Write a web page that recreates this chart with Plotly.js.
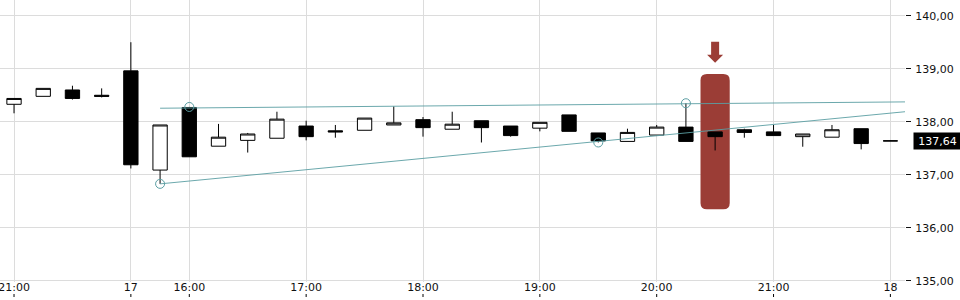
<!DOCTYPE html>
<html><head><meta charset="utf-8">
<script src="https://cdn.plot.ly/plotly-3.0.1.min.js"></script>
<style>html,body{margin:0;padding:0;background:#fff}#chart{width:960px;height:300px}</style>
</head><body><div id="chart"></div>
<script>
// 15-minute bars (ordinal axis: trading gaps removed)
const times = ["16 21:00","16 21:15","16 21:30","16 21:45",
  "17 15:30","17 15:45","17 16:00","17 16:15","17 16:30","17 16:45",
  "17 17:00","17 17:15","17 17:30","17 17:45","17 18:00","17 18:15",
  "17 18:30","17 18:45","17 19:00","17 19:15","17 19:30","17 19:45",
  "17 20:00","17 20:15","17 20:30","17 20:45","17 21:00","17 21:15",
  "17 21:30","17 21:45","18 15:30"];
const openV  = [138.33,138.48,138.60,138.50,138.96,137.09,138.27,137.54,137.65,137.69,
  137.92,137.83,137.84,137.94,138.04,137.86,138.02,137.92,137.88,138.13,
  137.79,137.63,137.75,137.90,137.81,137.85,137.81,137.72,137.71,137.87,137.64];
const highV  = [138.44,138.63,138.68,138.63,139.50,137.94,138.28,137.96,137.79,138.19,
  138.02,137.94,138.07,138.29,138.09,138.19,138.02,137.92,137.99,138.13,
  137.79,137.87,137.94,138.35,137.81,137.87,137.94,137.77,137.94,137.87,137.64];
const lowV   = [138.16,138.48,138.42,138.46,137.12,136.83,137.34,137.54,137.42,137.69,
  137.65,137.70,137.84,137.94,137.72,137.86,137.61,137.72,137.82,137.82,
  137.61,137.63,137.75,137.63,137.46,137.70,137.74,137.53,137.71,137.48,137.64];
const closeV = [138.44,138.63,138.44,138.48,137.19,137.94,137.34,137.71,137.77,138.05,
  137.72,137.81,138.07,137.98,137.89,137.955,137.89,137.74,137.99,137.82,
  137.64,137.80,137.90,137.63,137.72,137.80,137.74,137.77,137.85,137.59,137.64];

const tickIdx   = [0,4,6,10,14,18,22,26,30];
const tickText  = ["21:00","17","16:00","17:00","18:00","19:00","20:00","21:00","18"];

// trend lines (bar index, price)
const upperTrendX = [5, 30.5];
const upperTrendY = [138.256, 138.375];
const lowerTrendX = [5, 30.5];
const lowerTrendY = [136.83, 138.19];
const pivotX = [5, 6, 20, 23];
const pivotY = [136.83, 138.28, 137.61, 138.35];

const lastPrice = 137.64;
const lastPriceText = "137,64";
const signalIdx = 24;
const signalBand = [136.35, 138.90];
const signalArrowTip = 139.115;

const xIdx = times.map((t, i) => i);
const xRange = [-0.48, 30.5];
const teal = '#5b9ea3';
const red = '#9b3d36';
const font = 'DejaVu Sans, sans-serif';

const traces = [
  {type:'candlestick', x:xIdx, open:openV, high:highV, low:lowV, close:closeV,
   increasing:{line:{color:'#000', width:1}, fillcolor:'#ffffff'},
   decreasing:{line:{color:'#000', width:1}, fillcolor:'#000000'},
   whiskerwidth:0, hoverinfo:'skip', showlegend:false},
  {type:'scatter', mode:'lines', x:upperTrendX, y:upperTrendY,
   line:{color:teal, width:1}, hoverinfo:'skip', showlegend:false, opacity:0.9},
  {type:'scatter', mode:'lines', x:lowerTrendX, y:lowerTrendY,
   line:{color:teal, width:1}, hoverinfo:'skip', showlegend:false, opacity:0.9},
  {type:'scatter', mode:'markers', x:pivotX, y:pivotY,
   marker:{symbol:'circle-open', size:9, color:teal, line:{width:1, color:teal}},
   hoverinfo:'skip', showlegend:false}
];

// rounded highlight band
const x0 = signalIdx - 0.5, x1 = signalIdx + 0.5, y0 = signalBand[0], y1 = signalBand[1];
const rx = 0.22, ry = 0.12;
const bandPath = `M${x0+rx},${y1} L${x1-rx},${y1} Q${x1},${y1} ${x1},${y1-ry} L${x1},${y0+ry} Q${x1},${y0} ${x1-rx},${y0} L${x0+rx},${y0} Q${x0},${y0} ${x0},${y0+ry} L${x0},${y1-ry} Q${x0},${y1} ${x0+rx},${y1} Z`;

const shapes = [
  {type:'path', layer:'between', xref:'x', yref:'y', path:bandPath, fillcolor:red, line:{width:0}},
  {type:'path', layer:'above', xref:'x', yref:'y', xsizemode:'pixel', ysizemode:'pixel',
   xanchor:signalIdx, yanchor:signalArrowTip,
   path:'M0,0 L-8,8 L-4,8 L-4,21 L4,21 L4,8 L8,8 Z', fillcolor:red, line:{width:0}},
  {type:'path', layer:'above', xref:'x', yref:'y', xsizemode:'pixel', ysizemode:'pixel',
   xanchor:xRange[1], yanchor:lastPrice,
   path:'M0,0 L9,8 L9,-8 Z', fillcolor:'#000', line:{width:0}}
];
tickIdx.forEach(t => shapes.push({type:'line', xref:'x', yref:'paper', ysizemode:'pixel', yanchor:0,
  x0:t, x1:t, y0:-12, y1:-15, line:{color:'#000', width:1}}));

const layout = {
  width:960, height:300,
  margin:{l:0, r:55, t:0, b:18},
  paper_bgcolor:'#fff', plot_bgcolor:'#fff',
  separators:',.',
  font:{family:font, size:11, color:'#111'},
  showlegend:false,
  xaxis:{range:xRange, tickvals:tickIdx, ticktext:tickText, showgrid:true, gridcolor:'#dcdcdc',
    gridwidth:1, zeroline:false, ticks:'', rangeslider:{visible:false}, fixedrange:true,
    tickfont:{size:11, color:'#111'}, showline:false, ticklabeloverflow:'allow',
    ticklabelstandoff:-3},
  yaxis:{side:'right', range:[134.98, 140.296], tick0:135, dtick:1, tickformat:'.2f',
    ticks:'outside', ticklen:5, tickcolor:'#111', tickwidth:1, gridcolor:'#dcdcdc', gridwidth:1,
    zeroline:false, showline:false, fixedrange:true, tickfont:{size:11, color:'#111'},
    ticklabelstandoff:2},
  shapes:shapes,
  annotations:[{xref:'paper', yref:'y', x:1, y:lastPrice, xanchor:'left', yanchor:'middle',
    xshift:8, text:lastPriceText, showarrow:false, bgcolor:'#000', font:{color:'#fff', size:11, family:font},
    width:47, height:16, align:'center', borderpad:0}]
};

Plotly.newPlot('chart', traces, layout, {displayModeBar:false, staticPlot:true});
</script></body></html>
